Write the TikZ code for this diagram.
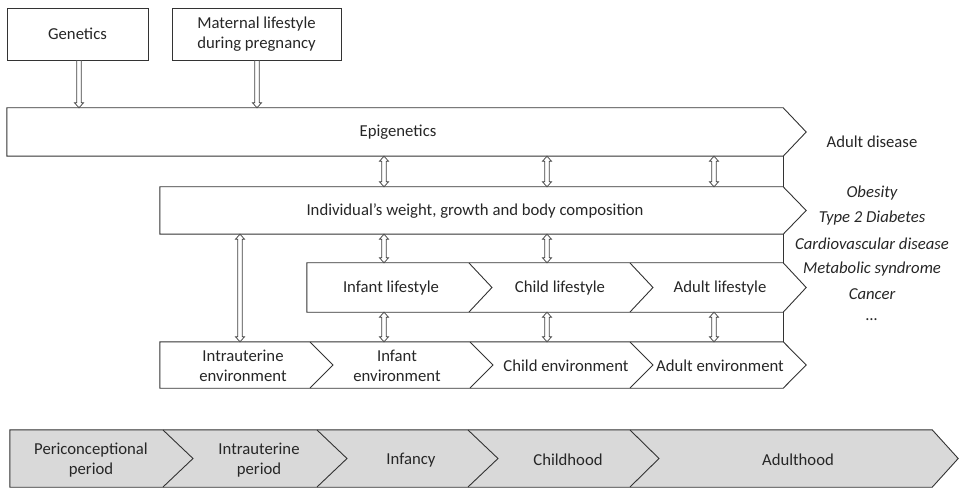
\documentclass[tikz,border=0pt]{standalone}
\usepackage{fontspec}
\setmainfont{Carlito}
\usetikzlibrary{calc}
\begin{document}
\begin{tikzpicture}[x=1pt,y=-1pt,
  every node/.style={font=\fontsize{16.7}{20.5}\selectfont, text=black!85, align=center, inner sep=0pt},
  outline/.style={draw=black!80, line width=0.9pt},
  period/.style={outline, fill=gray!30},
  disease/.style={font=\fontsize{16.7}{20.5}\selectfont\itshape},
  downarr/.style={draw=black!75, fill=white, line width=0.7pt, to path={
    let \p1=(\tikztostart), \p2=(\tikztotarget) in
    (\x1-2.3pt,\y1) -- (\x1-2.3pt,\y2+5pt) -- (\x1-4.5pt,\y2+5pt) -- (\x1,\y2)
    -- (\x1+4.5pt,\y2+5pt) -- (\x1+2.3pt,\y2+5pt) -- (\x1+2.3pt,\y1) -- cycle}},
  dblarr/.style={draw=black!75, fill=white, line width=0.7pt, to path={
    let \p1=(\tikztostart), \p2=(\tikztotarget) in
    (\x1-2.3pt,\y1-5pt) -- (\x1-4.5pt,\y1-5pt) -- (\x1,\y1) -- (\x1+4.5pt,\y1-5pt)
    -- (\x1+2.3pt,\y1-5pt) -- (\x1+2.3pt,\y2+5pt) -- (\x1+4.5pt,\y2+5pt) -- (\x1,\y2)
    -- (\x1-4.5pt,\y2+5pt) -- (\x1-2.3pt,\y2+5pt) -- cycle}}
]
\useasboundingbox (0,0) rectangle (959,489);

% top boxes
\node[outline, minimum width=141pt, minimum height=52pt] (gen) at (77.5,34) {Genetics};
\node[outline, minimum width=169pt, minimum height=52pt] (mat) at (256.5,34) {Maternal lifestyle\\during pregnancy};

% epigenetics band
\node[minimum width=776pt, minimum height=48pt] (epi) at (395,132) {};
\draw[outline] (epi.north west) -- (epi.north east) -- ($(epi.east)+(23,0)$) -- (epi.south east) -- (epi.south west) -- cycle;
\node (epit) at (398,132) {Epigenetics};

% individual band
\node[minimum width=623pt, minimum height=47pt] (ind) at (471.5,210.5) {};
\draw[outline] (ind.north west) -- (ind.north east) -- ($(ind.east)+(23,0)$) -- (ind.south east) -- (ind.south west) -- cycle;
\node (indt) at (475,211) {Individual’s weight, growth and body composition};

% lifestyle band
\node[minimum width=476pt, minimum height=49pt] (life) at (545,287.5) {};
\draw[outline] (life.north west) -- (life.north east) -- ($(life.east)+(23,0)$) -- (life.south east) -- (life.south west) -- cycle;
\draw[outline] (469,263) -- (492,287.5) -- (469,312);
\draw[outline] (630,263) -- (653,287.5) -- (630,312);
\node (lif1) at (391,288) {Infant lifestyle};
\node (lif2) at (560,288) {Child lifestyle};
\node (lif3) at (720,288) {Adult lifestyle};

% environment band
\node[minimum width=623pt, minimum height=46pt] (env) at (471.5,365) {};
\draw[outline] (env.north west) -- (env.north east) -- ($(env.east)+(23,0)$) -- (env.south east) -- (env.south west) -- cycle;
\draw[outline] (310,342) -- (333,365) -- (310,388);
\draw[outline] (470,342) -- (493,365) -- (470,388);
\draw[outline] (630,342) -- (653,365) -- (630,388);
\node (env1) at (243,366) {Intrauterine\\environment};
\node (env2) at (397,366) {Infant\\environment};
\node (env3) at (566,366) {Child environment};
\node (env4) at (720,366) {Adult environment};

% right-hand joins
\draw[outline] (epi.south east) -- (ind.north east);
\draw[outline] (ind.south east) -- (life.north east);
\draw[outline] (life.south east) -- (env.north east);

% periods
\node[minimum width=922pt, minimum height=57pt] (per) at (471,458.5) {};
\draw[period] (per.north west) -- (per.north east) -- ($(per.east)+(26,0)$) -- (per.south east) -- (per.south west) -- cycle;
\draw[outline] (163,430) -- (193,458.5) -- (163,487);
\draw[outline] (317,430) -- (347,458.5) -- (317,487);
\draw[outline] (468,430) -- (498,458.5) -- (468,487);
\draw[outline] (630,430) -- (659,458.5) -- (630,487);
\node (p1) at (91,460) {Periconceptional\\period};
\node (p2) at (259,460) {Intrauterine\\period};
\node (p3) at (411,460) {Infancy};
\node (p4) at (568,460) {Childhood};
\node (p5) at (798,460) {Adulthood};

% disease
\node (ad) at (872,142) {Adult disease};
\node[disease] (d1) at (872,193) {Obesity};
\node[disease] (d2) at (872,218.4) {Type 2 Diabetes};
\node[disease] (d3) at (872,243.8) {Cardiovascular disease};
\node[disease] (d4) at (872,269.2) {Metabolic syndrome};
\node[disease] (d5) at (872,294.6) {Cancer};
\node[disease] (d6) at (872,320) {\dots};

% arrows
\draw[downarr] (79,0 |- gen.south) to (79,0 |- epi.north);
\draw[downarr] (257,0 |- mat.south) to (257,0 |- epi.north);
\draw[dblarr] (384,0 |- epi.south) to (384,0 |- ind.north);
\draw[dblarr] (547,0 |- epi.south) to (547,0 |- ind.north);
\draw[dblarr] (714,0 |- epi.south) to (714,0 |- ind.north);
\draw[dblarr] (384,0 |- ind.south) to (384,0 |- life.north);
\draw[dblarr] (547,0 |- ind.south) to (547,0 |- life.north);
\draw[dblarr] (240,0 |- ind.south) to (240,0 |- env.north);
\draw[dblarr] (384,0 |- life.south) to (384,0 |- env.north);
\draw[dblarr] (547,0 |- life.south) to (547,0 |- env.north);
\draw[dblarr] (714,0 |- life.south) to (714,0 |- env.north);
\end{tikzpicture}
\end{document}
